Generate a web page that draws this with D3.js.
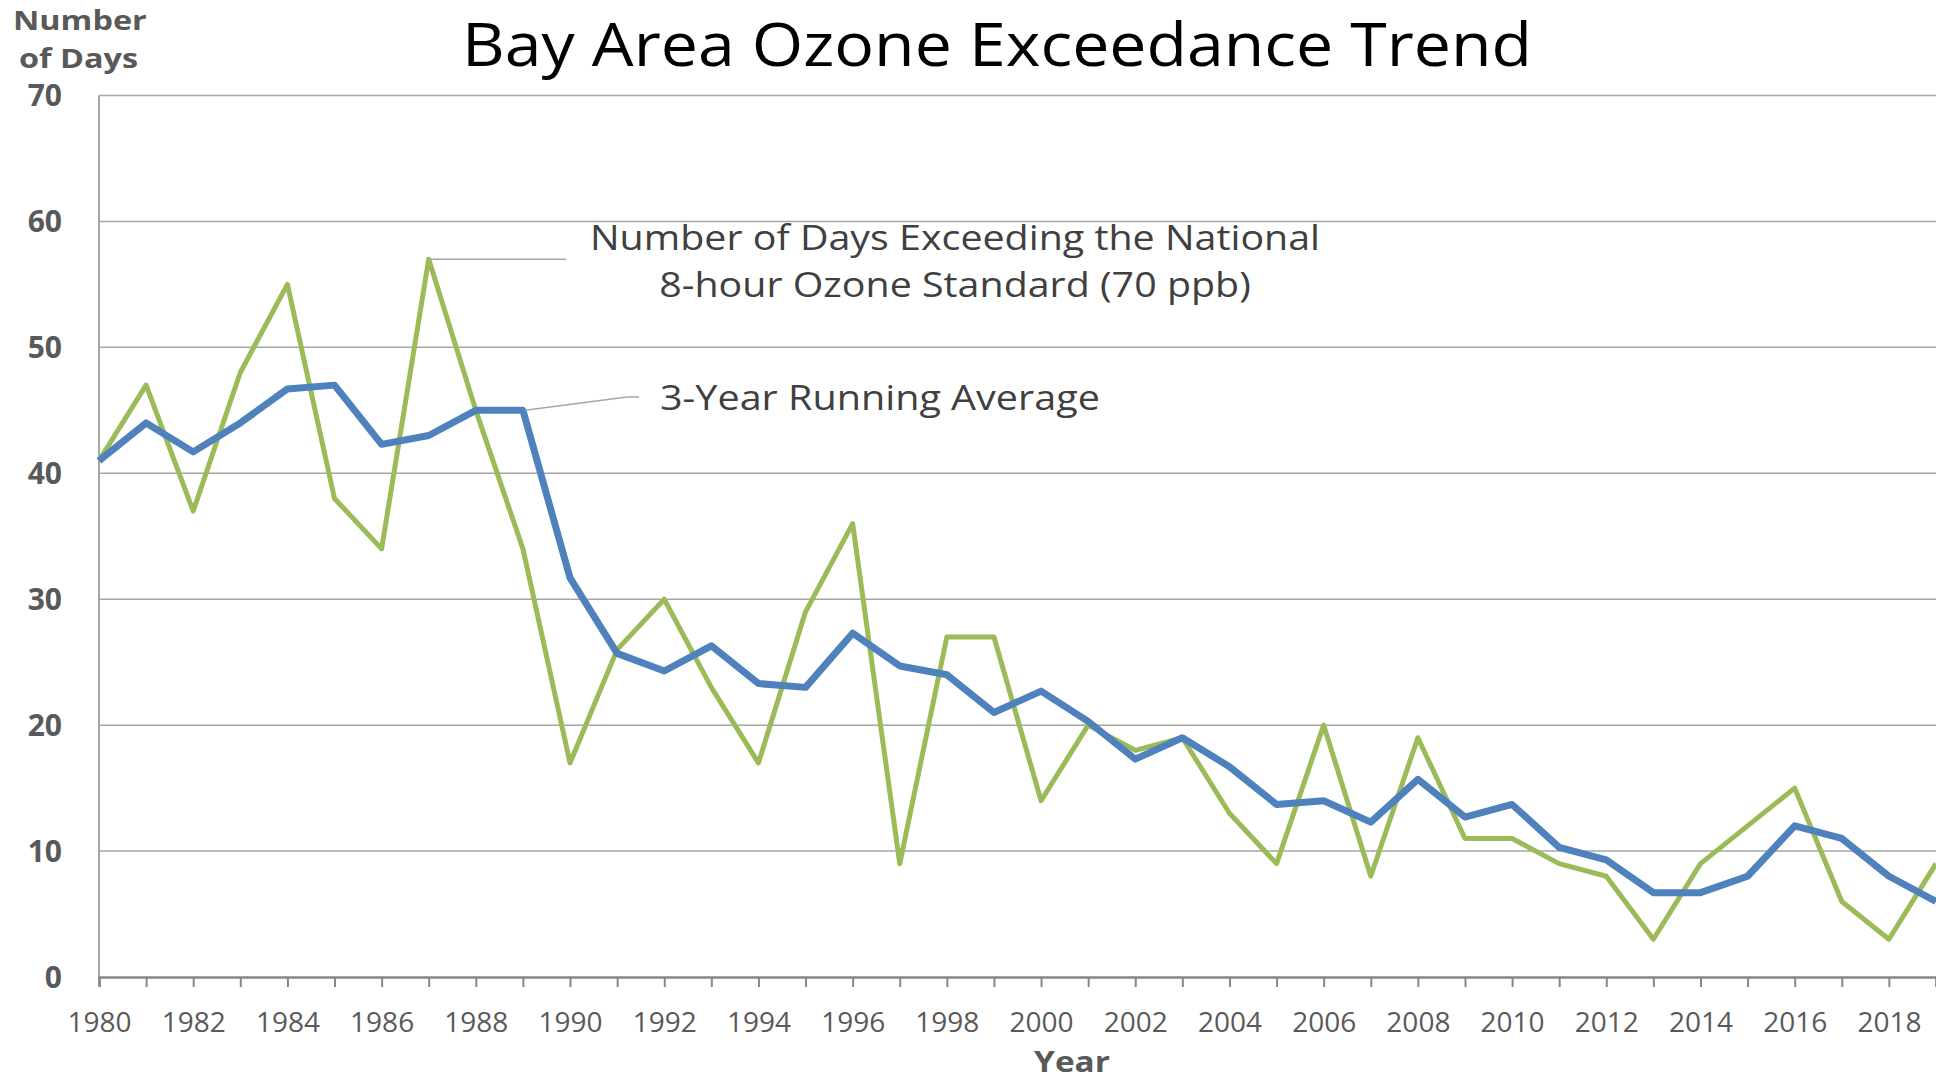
<!DOCTYPE html>
<html>
<head>
<meta charset="utf-8">
<script src="https://cdn.jsdelivr.net/npm/d3@7"></script>
<style>
  body { margin: 0; background: #fff; }
  svg { display: block; font-family: "Open Sans", sans-serif; }
</style>
</head>
<body>
<div id="chart"></div>
<script>
"use strict";

// data
const years = d3.range(1980, 2020);
const annualDays = [41, 47, 37, 48, 55, 38, 34, 57, 45, 34,
                    17, 26, 30, 23, 17, 29, 36, 9, 27, 27,
                    14, 20, 18, 19, 13, 9, 20, 8, 19, 11,
                    11, 9, 8, 3, 9, 12, 15, 6, 3, 9];
const runningAvg = [41, 44, 41.7, 44, 46.7, 47, 42.3, 43, 45, 45,
                    31.7, 25.7, 24.3, 26.3, 23.3, 23, 27.3, 24.7, 24, 21,
                    22.7, 20.3, 17.3, 19, 16.7, 13.7, 14, 12.3, 15.7, 12.7,
                    13.7, 10.3, 9.3, 6.7, 6.7, 8, 12, 11, 8, 6];
const yTicks = [0, 10, 20, 30, 40, 50, 60, 70];
const xLabelYears = d3.range(1980, 2019, 2);

const msm = {
  width: 1936,
  height: 1080,
  left: 99,
  right: 1936,
  top: 95.5,
  bottom: 977
};

const svg = d3.select("#chart")
  .append("svg")
  .attr("width", msm.width)
  .attr("height", msm.height);

const xScale = d3.scaleLinear()
  .domain([1980, 2019])
  .range([msm.left, msm.right]);

const yScale = d3.scaleLinear()
  .domain([0, 70])
  .range([msm.bottom, msm.top]);

// text that is a bit wider than the font draws it (the original is stretched)
function wideText(x, y, sx, size, txt) {
  return svg.append("text")
    .attr("transform", "translate(" + x + "," + y + ") scale(" + sx + ",1)")
    .style("font-size", size + "px")
    .text(txt);
}

// gridlines
svg.append("g")
  .selectAll("line")
  .data(yTicks.filter(d => d > 0))
  .enter()
  .append("line")
  .attr("x1", msm.left)
  .attr("x2", msm.right)
  .attr("y1", d => yScale(d))
  .attr("y2", d => yScale(d))
  .attr("stroke", "#a6a6a6")
  .attr("stroke-width", 1.5);

// y axis line + bold labels
svg.append("line")
  .attr("x1", msm.left).attr("x2", msm.left)
  .attr("y1", msm.top).attr("y2", msm.bottom)
  .attr("stroke", "#a6a6a6")
  .attr("stroke-width", 2);

svg.append("g")
  .selectAll("text")
  .data(yTicks)
  .enter()
  .append("text")
  .attr("x", 62)
  .attr("y", d => yScale(d))
  .attr("dy", "0.35em")
  .attr("text-anchor", "end")
  .style("font-size", "30px")
  .style("font-weight", "bold")
  .attr("fill", "#595959")
  .text(d => d);

// x axis: tick every year, label every other year
const xAxis = d3.axisBottom(xScale)
  .tickValues(years)
  .tickSize(10)
  .tickFormat(d => xLabelYears.includes(d) ? d : "");

const xg = svg.append("g")
  .attr("transform", "translate(0," + msm.bottom + ")")
  .call(xAxis);
xg.select(".domain").attr("stroke", "#868686").attr("stroke-width", 2.5);
xg.selectAll(".tick line").attr("stroke", "#868686").attr("stroke-width", 2);
xg.selectAll(".tick text")
  .attr("y", 45)
  .attr("dy", "0.35em")
  .attr("fill", "#595959")
  .style("font-family", "'Open Sans', sans-serif")
  .style("font-size", "28px");

// lines
const line = d3.line()
  .x((d, i) => xScale(years[i]))
  .y(d => yScale(d));

svg.append("path")
  .datum(annualDays)
  .attr("fill", "none")
  .attr("stroke", "#9bbb59")
  .attr("stroke-width", 5)
  .attr("stroke-linejoin", "round")
  .attr("d", line);

svg.append("path")
  .datum(runningAvg)
  .attr("fill", "none")
  .attr("stroke", "#4f81bd")
  .attr("stroke-width", 7)
  .attr("stroke-linejoin", "round")
  .attr("d", line);

// annotations with leader lines
const peakIdx = 7;   // 1987
svg.append("line")
  .attr("x1", xScale(years[peakIdx]))
  .attr("y1", yScale(annualDays[peakIdx]))
  .attr("x2", 566)
  .attr("y2", yScale(annualDays[peakIdx]))
  .attr("stroke", "#a6a6a6")
  .attr("stroke-width", 1.5);

const avgIdx = 9;    // 1989
svg.append("polyline")
  .attr("points", [
    [xScale(years[avgIdx]) + 2, yScale(runningAvg[avgIdx])],
    [627, 397],
    [639, 397]
  ].join(" "))
  .attr("fill", "none")
  .attr("stroke", "#a6a6a6")
  .attr("stroke-width", 1.5);

wideText(955, 250, 1.125, 35, "Number of Days Exceeding the National")
  .attr("text-anchor", "middle")
  .attr("fill", "#404040");

wideText(955, 297, 1.125, 35, "8-hour Ozone Standard (70 ppb)")
  .attr("text-anchor", "middle")
  .attr("fill", "#404040");

wideText(660, 410, 1.13, 35, "3-Year Running Average")
  .attr("fill", "#404040");

// titles
wideText(997, 66, 1.085, 61, "Bay Area Ozone Exceedance Trend")
  .attr("text-anchor", "middle")
  .attr("fill", "#000");

wideText(13, 30, 1.2, 27, "Number")
  .style("font-weight", "bold")
  .attr("fill", "#595959");

wideText(19, 68, 1.2, 27, "of Days")
  .style("font-weight", "bold")
  .attr("fill", "#595959");

wideText(1072, 1072, 1.15, 29, "Year")
  .attr("text-anchor", "middle")
  .style("font-weight", "bold")
  .attr("fill", "#595959");
</script>
</body>
</html>
